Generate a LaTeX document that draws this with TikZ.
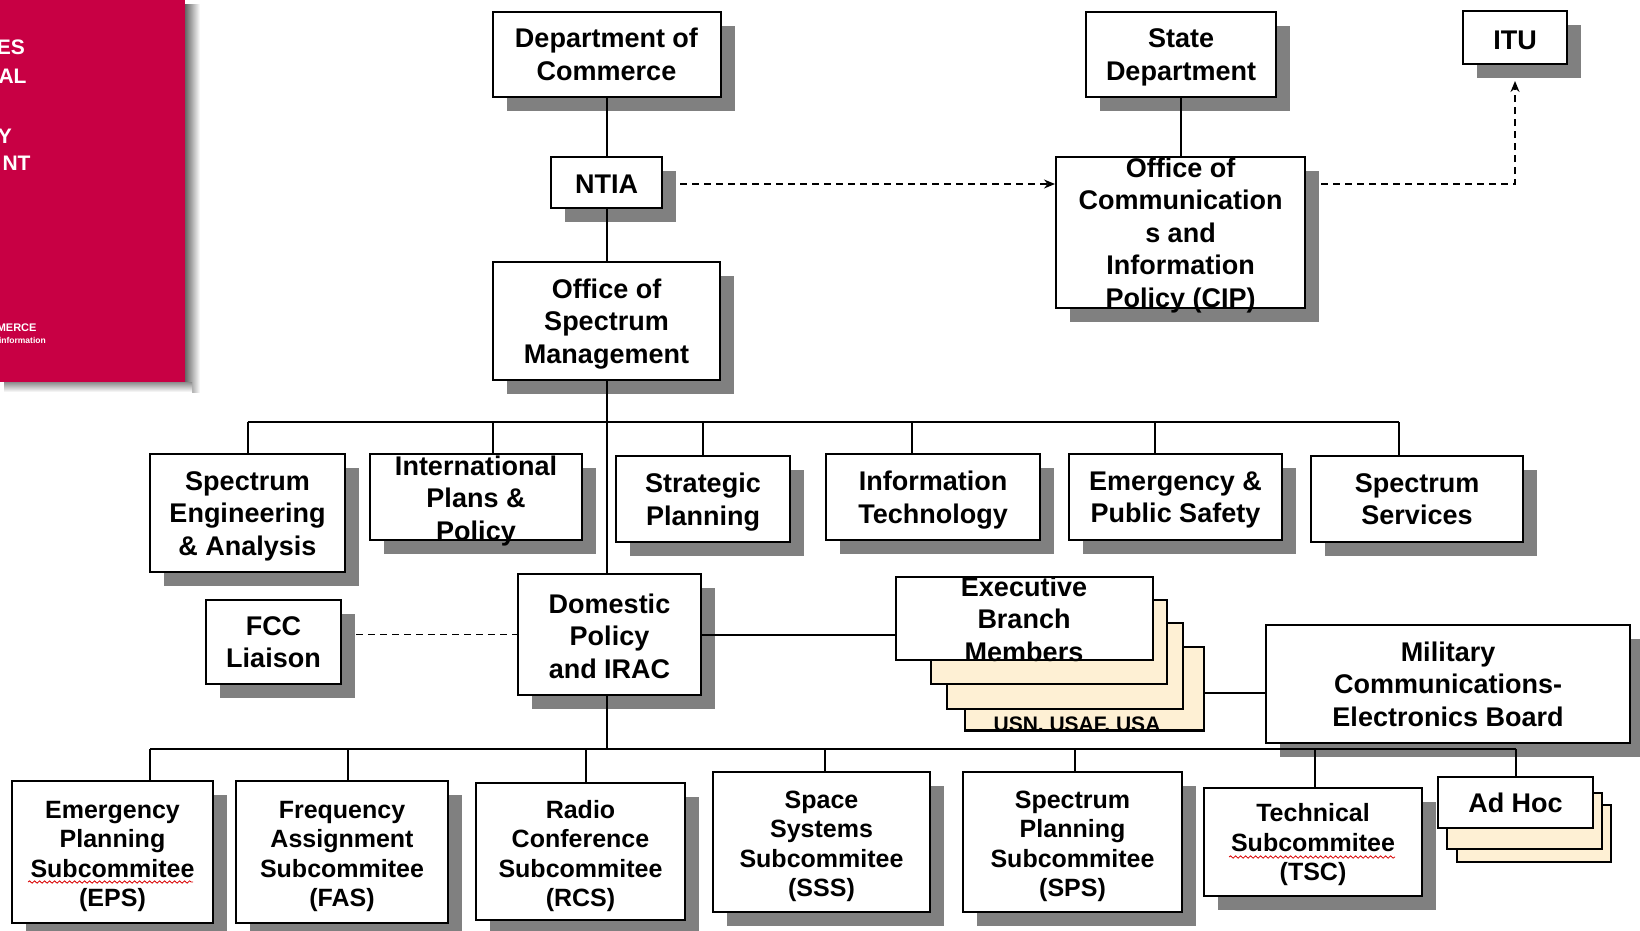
\documentclass[tikz,border=0pt]{standalone}
\usepackage{fontspec}
\setmainfont{Liberation Sans}
\usetikzlibrary{arrows.meta,calc,shadows,decorations.pathmorphing}
\definecolor{coverred}{RGB}{200,0,68}
\definecolor{shadowgray}{RGB}{128,128,128}
\definecolor{cream}{RGB}{254,240,212}
\tikzset{
  box/.style={draw=black, line width=2pt, fill=white, inner sep=0pt},
  shbox/.style={box, drop shadow={shadow xshift=14pt, shadow yshift=-14pt, fill=shadowgray, opacity=1}},
  stackbox/.style={draw=black, line width=2pt, fill=cream, inner sep=0pt},
  lbl/.style={align=center, font=\bfseries\fontsize{27}{32.5}\selectfont, inner sep=0pt},
  dsc/.style={yshift=-3pt},
  slbl/.style={align=center, font=\bfseries\fontsize{25}{29.5}\selectfont, inner sep=0pt, yshift=-4.5pt},
  covertxt/.style={text=white, font=\bfseries\fontsize{21}{25}\selectfont, inner sep=0pt, anchor=east},
  conn/.style={line width=2pt},
  dashconn/.style={line width=1.6pt, dash pattern=on 7pt off 5pt},
  tip/.style={-{Stealth[length=11pt,width=9pt]}},
  squiggle/.style={draw=red!85!black, line width=0.8pt, decorate, decoration={snake, amplitude=1.2pt, segment length=5pt}}
}
\begin{document}
\begin{tikzpicture}[x=1pt,y=-1pt]
\clip (0,0) rectangle (1640,930);
\fill[white] (0,0) rectangle (1640,930);

% ---- red cover panel ----
\shade[left color=black!60, right color=white] (185,4) rectangle (200,392);
\shade[top color=black!45, bottom color=white] (4,382) rectangle (192,392);
\fill[coverred] (0,0) rectangle (185,382);
\node[covertxt] (c1) at (25,47.5) {ES};
\node[covertxt] (c2) at (26.7,76.7) {AL};
\node[covertxt] (c3) at (12,135.8) {Y};
\node[covertxt] (c4) at (30.7,163) {NT};
\node[covertxt, font=\bfseries\fontsize{11}{13}\selectfont] (c5) at (36.7,328) {MERCE};
\node[covertxt, font=\bfseries\fontsize{8.5}{10}\selectfont] (c6) at (46,340) {information};

% ---- top ----
\node[shbox, minimum width=228, minimum height=85] (doc) at (606.5,54.5) {};
\node[lbl] (doct) at (doc) {Department of\\Commerce};
\node[shbox, minimum width=111, minimum height=51] (ntia) at (606.5,182.5) {};
\node[lbl] (ntiat) at (606.5,184) {NTIA};
\node[shbox, minimum width=227, minimum height=118] (osm) at (606.5,321) {};
\node[lbl, dsc] (osmt) at (osm) {Office of\\Spectrum\\Management};
\node[shbox, minimum width=190, minimum height=85] (state) at (1181,54.5) {};
\node[lbl, dsc] (statet) at (state) {State\\Department};
\node[shbox, minimum width=249, minimum height=151] (ocip) at (1180.5,232.5) {};
\node[lbl, dsc] (ocipt) at (ocip) {Office of\\Communication\\s and\\Information\\Policy (CIP)};
\node[shbox, minimum width=104, minimum height=53] (itu) at (1515,37.5) {};
\node[lbl] (itut) at (1515,40) {ITU};

% ---- divisions ----
\node[shbox, minimum width=195, minimum height=118] (sea) at (247.5,513) {};
\node[lbl, dsc] (seat) at (sea) {Spectrum\\Engineering\\\& Analysis};
\node[shbox, minimum width=212, minimum height=86] (intl) at (476,497) {};
\node[lbl, dsc] (intlt) at (476,498) {International\\Plans \&\\Policy};
\node[shbox, minimum width=174, minimum height=86] (sp) at (703,499) {};
\node[lbl, dsc] (spt) at (sp) {Strategic\\Planning};
\node[shbox, minimum width=214, minimum height=86] (it) at (933,497) {};
\node[lbl, dsc] (itt) at (it) {Information\\Technology};
\node[shbox, minimum width=213, minimum height=86] (eps) at (1175.5,497) {};
\node[lbl, dsc] (epst) at (eps) {Emergency \&\\Public Safety};
\node[shbox, minimum width=212, minimum height=86] (ss) at (1417,499) {};
\node[lbl] (sst) at (ss) {Spectrum\\Services};

% ---- middle ----
\node[shbox, minimum width=135, minimum height=84] (fcc) at (273.5,642) {};
\node[lbl] (fcct) at (fcc) {FCC\\Liaison};
\node[shbox, minimum width=183, minimum height=121] (dp) at (609.5,634.5) {};
\node[lbl] (dpt) at (609.5,636) {Domestic\\Policy\\and IRAC};

\node[stackbox, minimum width=239, minimum height=83] (ebm4) at (1084.5,688.5) {};
\begin{scope}
  \clip (965,647) rectangle (1204,731);
  \node[font=\bfseries\fontsize{21}{25}\selectfont, inner sep=0pt, anchor=base] (usn) at (1077,731) {USN, USAF, USA};
\end{scope}
\draw[line width=2pt] (ebm4.south west) -- (ebm4.south east);
\node[stackbox, minimum width=236, minimum height=86] (ebm3) at (1065,666) {};
\node[stackbox, minimum width=236, minimum height=84] (ebm2) at (1049,642) {};
\node[box, minimum width=257, minimum height=83] (ebm1) at (1024.5,618.5) {};
\node[lbl] (ebmt) at (1024,619) {Executive\\Branch\\Members};

\node[shbox, minimum width=364, minimum height=118] (mceb) at (1448,684) {};
\node[lbl] (mcebt) at (mceb) {Military\\Communications-\\Electronics Board};

% ---- subcommittees ----
\node[shbox, minimum width=201, minimum height=142] (epsub) at (112.5,852) {};
\node[slbl] (epsubt) at (epsub) {Emergency\\Planning\\Subcommitee\\(EPS)};
\node[shbox, minimum width=212, minimum height=142] (fas) at (342,852) {};
\node[slbl] (fast) at (fas) {Frequency\\Assignment\\Subcommitee\\(FAS)};
\node[shbox, minimum width=209, minimum height=137] (rcs) at (580.5,851.5) {};
\node[slbl] (rcst) at (rcs) {Radio\\Conference\\Subcommitee\\(RCS)};
\node[shbox, minimum width=217, minimum height=140] (sss) at (821.5,842) {};
\node[slbl] (ssst) at (sss) {Space\\Systems\\Subcommitee\\(SSS)};
\node[shbox, minimum width=219, minimum height=140] (sps) at (1072.5,842) {};
\node[slbl] (spst) at (sps) {Spectrum\\Planning\\Subcommitee\\(SPS)};
\node[shbox, minimum width=218, minimum height=108] (tsc) at (1313,842) {};
\node[slbl, yshift=1.5pt] (tsct) at (tsc) {Technical\\Subcommitee\\(TSC)};
\node[stackbox, minimum width=154, minimum height=57] (adhoc3) at (1534,833.5) {};
\node[stackbox, minimum width=155, minimum height=56] (adhoc2) at (1524.5,821) {};
\node[box, minimum width=155, minimum height=51] (adhoc1) at (1515.5,802.5) {};
\node[lbl] (adhoct) at (adhoc1) {Ad Hoc};

% spell-check squiggles
\draw[squiggle] (28,882) -- (193,882);
\draw[squiggle] (1229,857) -- (1395,857);

% ---- connectors ----
\coordinate (busUL) at (247.5,422);
\coordinate (busUR) at (1398.5,422);
\coordinate (busLL) at (150,749);
\coordinate (busLR) at (1515.5,749);
\draw[conn] (doc.south) -- (ntia.north);
\draw[conn] (ntia.south) -- (osm.north);
\draw[conn] (osm.south) -- (osm.south |- dp.north);
\draw[conn] (osm.south |- dp.south) -- (osm.south |- busLL);
\draw[conn] (state.south) -- (state.south |- ocip.north);

\draw[conn] (busUL) -- (busUR);
\coordinate (d1) at (247.5,422);
\coordinate (d2) at (493,422);
\coordinate (d3) at (703,422);
\coordinate (d4) at (912,422);
\coordinate (d5) at (1155,422);
\coordinate (d6) at (1398.5,422);
\draw[conn] (d1) -- (d1 |- sea.north);
\draw[conn] (d2) -- (d2 |- intl.north);
\draw[conn] (d3) -- (d3 |- sp.north);
\draw[conn] (d4) -- (d4 |- it.north);
\draw[conn] (d5) -- (d5 |- eps.north);
\draw[conn] (d6) -- (d6 |- ss.north);

\draw[conn] (busLL) -- (busLR);
\coordinate (e1) at (150,749);
\coordinate (e2) at (347.7,749);
\coordinate (e3) at (586,749);
\coordinate (e4) at (825,749);
\coordinate (e5) at (1075,749);
\coordinate (e6) at (1315,749);
\coordinate (e7) at (1515.5,749);
\draw[conn] (e1) -- (e1 |- epsub.north);
\draw[conn] (e2) -- (e2 |- fas.north);
\draw[conn] (e3) -- (e3 |- rcs.north);
\draw[conn] (e4) -- (e4 |- sss.north);
\draw[conn] (e5) -- (e5 |- sps.north);
\draw[conn] (e6) -- (e6 |- tsc.north);
\draw[conn] (e7) -- (adhoc1.north);

\draw[conn] (dp.east) -- (dp.east -| ebm1.west);
\coordinate (em) at (1204,693);
\draw[conn] (em) -- (em -| mceb.west);

\coordinate (fcce) at (356,634.5);
\draw[dashconn] (fcce) -- (fcce -| dp.west);
\coordinate (ntiae) at (680,184);
\draw[dashconn, tip] (ntiae) -- (ntiae -| ocip.west);
\coordinate (ocipe) at (1321,184);
\coordinate (itub) at ($(itu.south)+(0,16)$);
\draw[dashconn, tip] (ocipe) -| (itub);
\end{tikzpicture}
\end{document}
